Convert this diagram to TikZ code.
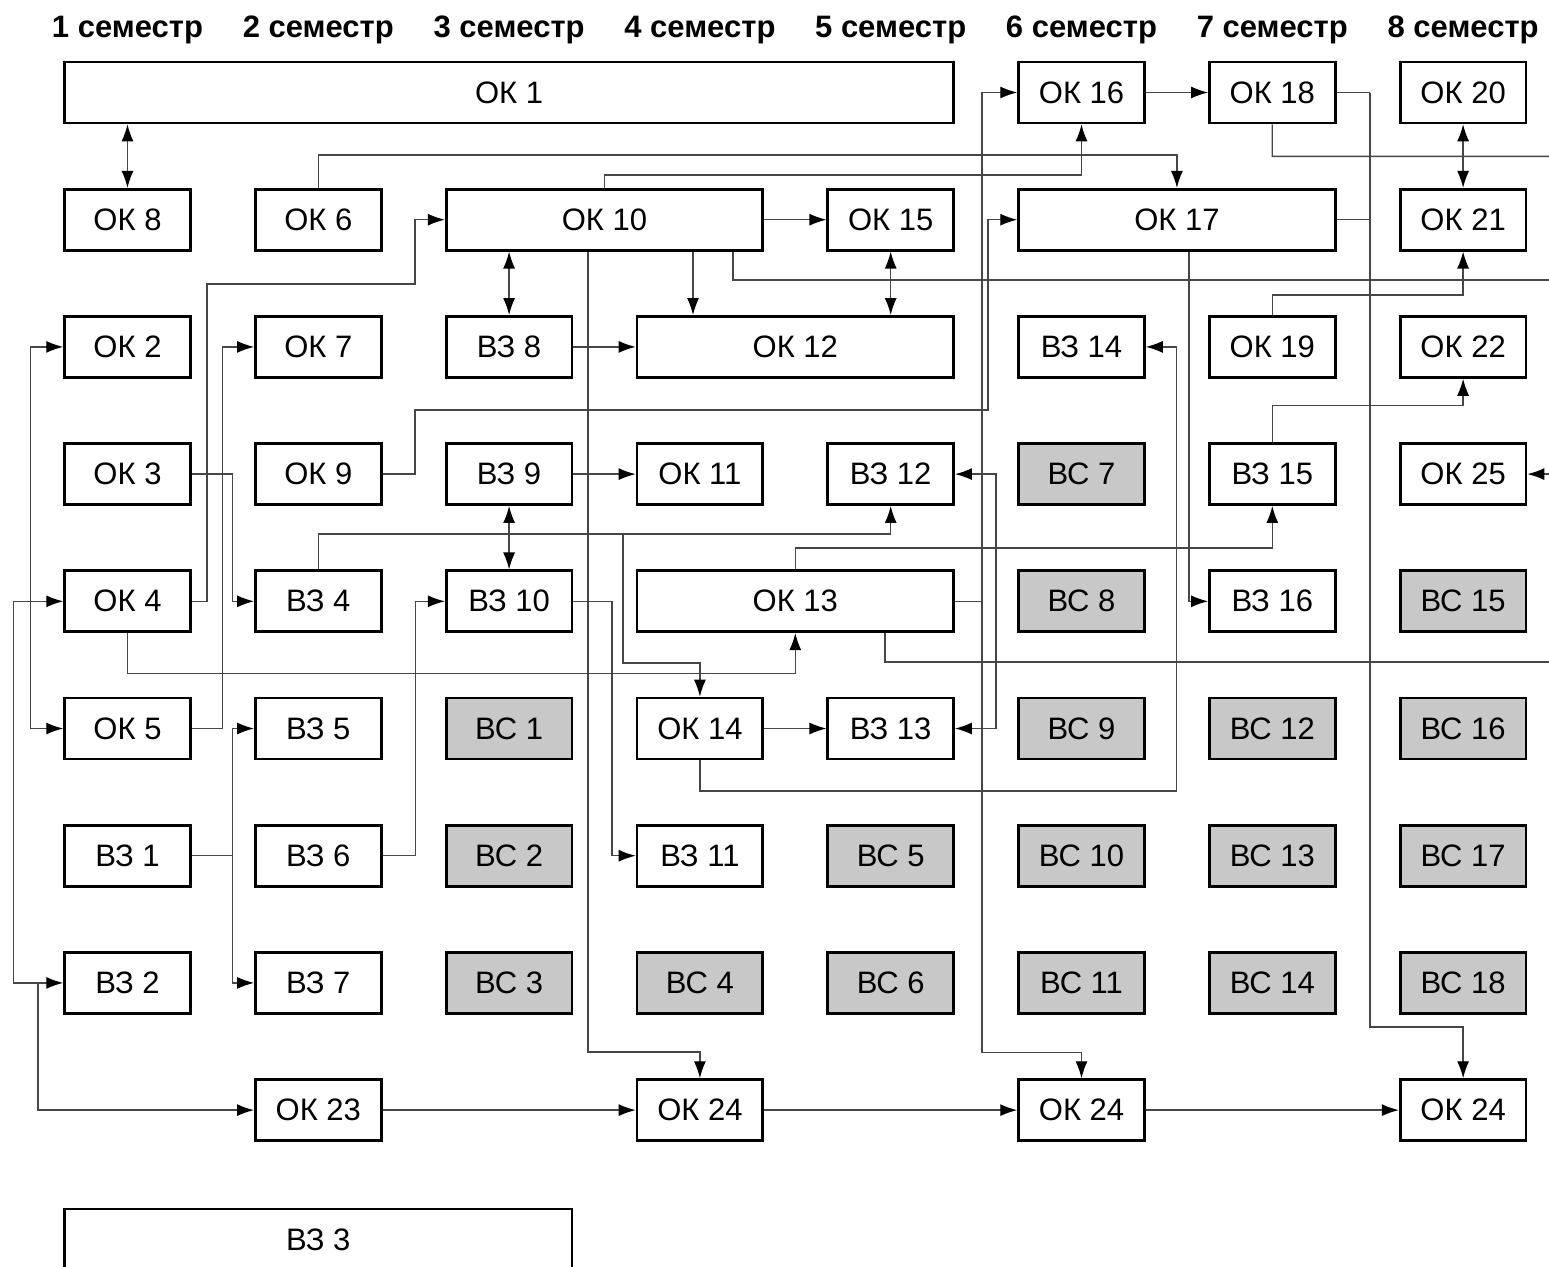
\documentclass[tikz,border=0pt]{standalone}
\usepackage{fontspec}
\setmainfont{Liberation Sans}
\usetikzlibrary{arrows.meta}
\definecolor{boxgray}{RGB}{200,200,200}
\definecolor{linegray}{RGB}{70,70,70}
\tikzset{
 box/.style={draw=black, line width=2.7pt, fill=white, minimum width=125.8pt, minimum height=61pt, inner sep=0pt, font=\fontsize{31}{34}\selectfont},
 gbox/.style={box, fill=boxgray},
 hdr/.style={font=\fontsize{31}{35}\selectfont\bfseries, anchor=base, inner sep=0pt},
 ln/.style={draw=linegray, line width=1.3pt},
 conn/.style={ln, -{Latex[length=17pt,width=12pt,color=black]}},
 both/.style={ln, {Latex[length=17pt,width=12pt,color=black]}-{Latex[length=17pt,width=12pt,color=black]}},
}
\begin{document}
\begin{tikzpicture}[x=1pt,y=-1pt]
\useasboundingbox (0,0) rectangle (1549,1266);
\clip (0,0) rectangle (1549,1266);
\fill[white] (0,0) rectangle (1549,1266);
% headers
\node[hdr] (h1) at (127.5,37.5) {1 семестр};
\node[hdr] (h2) at (318.3,37.5) {2 семестр};
\node[hdr] (h3) at (509.1,37.5) {3 семестр};
\node[hdr] (h4) at (699.9,37.5) {4 семестр};
\node[hdr] (h5) at (890.7,37.5) {5 семестр};
\node[hdr] (h6) at (1081.5,37.5) {6 семестр};
\node[hdr] (h7) at (1272.3,37.5) {7 семестр};
\node[hdr] (h8) at (1463.1,37.5) {8 семестр};
% row 1
\node[box, minimum width=889pt] (ok1) at (509.1,92.5) {ОК 1};
\node[box] (ok16) at (1081.5,92.5) {ОК 16};
\node[box] (ok18) at (1272.3,92.5) {ОК 18};
\node[box] (ok20) at (1463.1,92.5) {ОК 20};
% row 2
\node[box] (ok8) at (127.5,219.7) {ОК 8};
\node[box] (ok6) at (318.3,219.7) {ОК 6};
\node[box, minimum width=316.6pt] (ok10) at (604.5,219.7) {ОК 10};
\node[box] (ok15) at (890.7,219.7) {ОК 15};
\node[box, minimum width=316.6pt] (ok17) at (1176.9,219.7) {ОК 17};
\node[box] (ok21) at (1463.1,219.7) {ОК 21};
% row 3
\node[box] (ok2) at (127.5,346.9) {ОК 2};
\node[box] (ok7) at (318.3,346.9) {ОК 7};
\node[box] (vz8) at (509.1,346.9) {ВЗ 8};
\node[box, minimum width=316.6pt] (ok12) at (795.3,346.9) {ОК 12};
\node[box] (vz14) at (1081.5,346.9) {ВЗ 14};
\node[box] (ok19) at (1272.3,346.9) {ОК 19};
\node[box] (ok22) at (1463.1,346.9) {ОК 22};
% row 4
\node[box] (ok3) at (127.5,474.1) {ОК 3};
\node[box] (ok9) at (318.3,474.1) {ОК 9};
\node[box] (vz9) at (509.1,474.1) {ВЗ 9};
\node[box] (ok11) at (699.9,474.1) {ОК 11};
\node[box] (vz12) at (890.7,474.1) {ВЗ 12};
\node[gbox] (vs7) at (1081.5,474.1) {ВС 7};
\node[box] (vz15) at (1272.3,474.1) {ВЗ 15};
\node[box] (ok25) at (1463.1,474.1) {ОК 25};
% row 5
\node[box] (ok4) at (127.5,601.3) {ОК 4};
\node[box] (vz4) at (318.3,601.3) {ВЗ 4};
\node[box] (vz10) at (509.1,601.3) {ВЗ 10};
\node[box, minimum width=316.6pt] (ok13) at (795.3,601.3) {ОК 13};
\node[gbox] (vs8) at (1081.5,601.3) {ВС 8};
\node[box] (vz16) at (1272.3,601.3) {ВЗ 16};
\node[gbox] (vs15) at (1463.1,601.3) {ВС 15};
% row 6
\node[box] (ok5) at (127.5,728.5) {ОК 5};
\node[box] (vz5) at (318.3,728.5) {ВЗ 5};
\node[gbox] (vs1) at (509.1,728.5) {ВС 1};
\node[box] (ok14) at (699.9,728.5) {ОК 14};
\node[box] (vz13) at (890.7,728.5) {ВЗ 13};
\node[gbox] (vs9) at (1081.5,728.5) {ВС 9};
\node[gbox] (vs12) at (1272.3,728.5) {ВС 12};
\node[gbox] (vs16) at (1463.1,728.5) {ВС 16};
% row 7
\node[box] (vz1) at (127.5,855.7) {ВЗ 1};
\node[box] (vz6) at (318.3,855.7) {ВЗ 6};
\node[gbox] (vs2) at (509.1,855.7) {ВС 2};
\node[box] (vz11) at (699.9,855.7) {ВЗ 11};
\node[gbox] (vs5) at (890.7,855.7) {ВС 5};
\node[gbox] (vs10) at (1081.5,855.7) {ВС 10};
\node[gbox] (vs13) at (1272.3,855.7) {ВС 13};
\node[gbox] (vs17) at (1463.1,855.7) {ВС 17};
% row 8
\node[box] (vz2) at (127.5,982.9) {ВЗ 2};
\node[box] (vz7) at (318.3,982.9) {ВЗ 7};
\node[gbox] (vs3) at (509.1,982.9) {ВС 3};
\node[gbox] (vs4) at (699.9,982.9) {ВС 4};
\node[gbox] (vs6) at (890.7,982.9) {ВС 6};
\node[gbox] (vs11) at (1081.5,982.9) {ВС 11};
\node[gbox] (vs14) at (1272.3,982.9) {ВС 14};
\node[gbox] (vs18) at (1463.1,982.9) {ВС 18};
% row 9
\node[box] (ok23) at (318.3,1110.1) {ОК 23};
\node[box] (ok24a) at (699.9,1110.1) {ОК 24};
\node[box] (ok24b) at (1081.5,1110.1) {ОК 24};
\node[box] (ok24c) at (1463.1,1110.1) {ОК 24};
% row 10 (bottom edge lies below the page)
\node[box, minimum width=507.4pt] (vz3) at (318.3,1239.5) {ВЗ 3};
% connectors
\draw[both] (ok1.south -| ok8.north) -- (ok8.north);
\draw[conn] (ok6.north) -- ++(0,-33) -| (ok17.north);
\draw[conn] (ok10.north) -- ++(0,-13) -| (ok16.south);
\draw[conn] (ok9.east) -| (415,410) -- (988,410) |- (ok17.west);
\draw[conn] (ok4.east) -| (207,284) -- (415,284) |- (ok10.west);
\draw[conn] (ok5.east) -- ++(30.5,0) |- (ok7.west);
\draw[both] (ok2.west) -- ++(-33,0) |- (ok5.west);
\draw[both] (ok4.west) -- ++(-50,0) |- (vz2.west);
\coordinate (j1) at (38,982.9);
\draw[conn] (j1) |- (ok23.west);
\draw[conn] (ok3.east) -- ++(40.5,0) |- (vz4.west);
\draw[ln] (vz1.east) -- ++(41,0) coordinate (j2);
\draw[conn] (j2) |- (vz5.west);
\draw[conn] (j2) |- (vz7.west);
\draw[conn] (vz6.east) -- ++(33,0) |- (vz10.west);
\draw[conn] (vz4.north) -- ++(0,-35.5) -| (vz12.south);
\coordinate (j3) at (623,534);
\draw[conn] (j3) -- (623,663) -| (ok14.north);
\draw[conn] (ok4.south) -- ++(0,40) -| (ok13.south);
\draw[both] (vz9.south) -- (vz10.north);
\draw[conn] (vz9.east) -- (ok11.west);
\draw[both] (ok10.south -| vz8.north) -- (vz8.north);
\draw[conn] (vz8.east) -- (ok12.west);
\draw[conn] (ok10.east) -- (ok15.west);
\draw[conn] ([xshift=88.5pt]ok10.south) -- ([xshift=-102.3pt]ok12.north);
\draw[both] (ok15.south) -- (ok15.south |- ok12.north);
\draw[ln] ([xshift=128.5pt]ok10.south) |- (1560,280);
\draw[conn] ([xshift=-16.5pt]ok10.south) -- ++(0,800.5) -| (ok24a.north);
\draw[conn] (vz10.east) -- ++(38.7,0) |- (vz11.west);
\draw[conn] (ok13.north) -- ++(0,-21.5) -| (vz15.south);
\draw[ln] ([xshift=89.7pt]ok13.south) |- (1560,662);
\draw[conn] (ok14.east) -- (vz13.west);
\draw[conn] (ok14.south) -- ++(0,30.6) -| ([xshift=30.5pt]vz14.east) -- (vz14.east);
\draw[both] (vz12.east) -- ++(41,0) |- (vz13.east);
\draw[ln] (ok13.east) -- ++(27,0) coordinate (j4);
\draw[conn] (j4) |- (ok16.west);
\draw[conn] (j4) -- ++(0,451) -| (ok24b.north);
\draw[conn] (ok16.east) -- (ok18.west);
\draw[ln] (ok18.south) -- ++(0,32) -- (1560,156.35);
\draw[ln] (ok18.east) -- ++(33.5,0) coordinate (j5);
\draw[conn] (j5) -- ++(0,934.5) -| (ok24c.north);
\draw[ln] (ok17.east) -- (j5 |- ok17.east);
\draw[both] (ok20.south) -- (ok21.north);
\draw[conn] (ok19.north) -- ++(0,-20) -| (ok21.south);
\draw[conn] (vz15.north) -- ++(0,-37) -| (ok22.south);
\draw[conn] ([xshift=12pt]ok17.south) |- (vz16.west);
\coordinate (e1) at (1560,474.1);
\draw[conn] (e1) -- (ok25.east);
\draw[conn] (ok23.east) -- (ok24a.west);
\draw[conn] (ok24a.east) -- (ok24b.west);
\draw[conn] (ok24b.east) -- (ok24c.west);
\end{tikzpicture}
\end{document}
